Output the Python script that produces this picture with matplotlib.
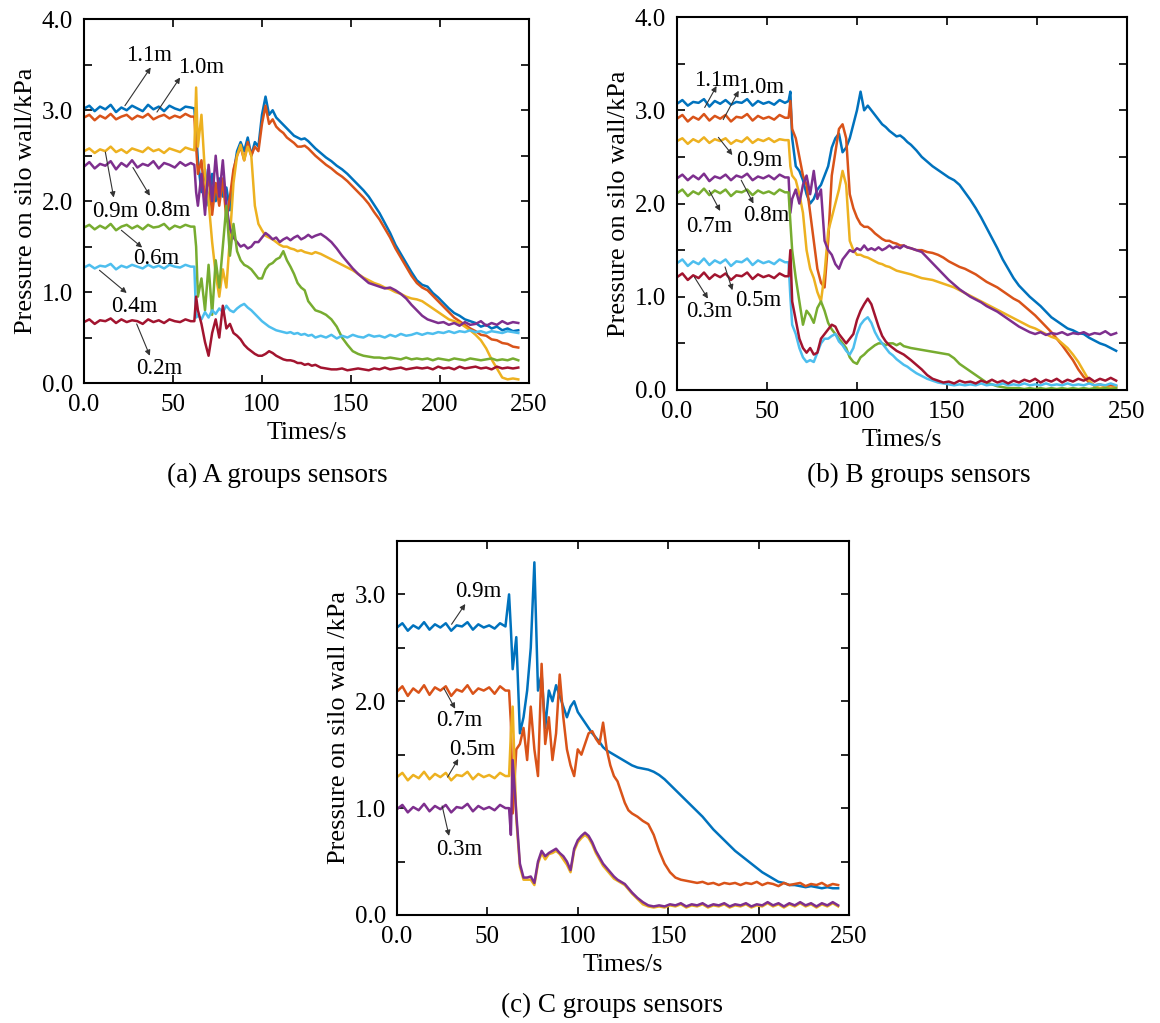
import matplotlib
matplotlib.use("Agg")
import matplotlib.pyplot as plt

plt.rcParams['font.family'] = ['Liberation Serif', 'DejaVu Serif']

# time grid (s), shared by every series
t = [0, 3, 6, 9, 12, 15, 18, 21, 24, 27, 30, 33, 36, 39, 42, 45, 48, 51, 54, 57, 60,
     62, 63,
     64, 66, 68, 70, 72, 74, 76, 78, 80, 82, 84, 86, 88, 90, 92, 94, 96,
     98, 100, 102, 104, 106, 108, 110, 112, 114, 116, 118, 120, 122, 124, 126, 128,
     130, 133, 136, 139, 142, 145, 148, 151, 154, 157, 160, 163, 166, 169, 172, 175, 178, 181, 184, 187,
     190, 193, 196, 199, 202, 205, 208, 211, 214, 217, 220, 223, 226, 229, 232, 235, 238, 241, 244]

# ---- group A ----
a_11 = [3.02, 3.05, 2.99, 3.04, 3.01, 3.06, 2.98, 3.03, 3.00, 3.05, 3.02, 2.99, 3.06, 3.01, 3.04, 2.99, 3.05, 3.02, 3.00, 3.04, 3.03,
        3.02, 2.75,
        2.45, 2.1, 2.35, 1.95, 2.3, 2.0, 2.25, 2.05, 2.15, 1.9, 2.3, 2.55, 2.65, 2.55, 2.7, 2.5, 2.65,
        2.6, 2.95, 3.15, 2.95, 3.0, 2.92, 2.88, 2.84, 2.8, 2.76, 2.72, 2.7, 2.68, 2.69, 2.66, 2.62,
        2.58, 2.53, 2.48, 2.44, 2.39, 2.35, 2.3, 2.24, 2.18, 2.12, 2.05, 1.96, 1.87, 1.76, 1.65, 1.52, 1.42, 1.32, 1.22, 1.13,
        1.08, 1.06, 0.99, 0.94, 0.88, 0.82, 0.77, 0.74, 0.7, 0.68, 0.66, 0.62, 0.64, 0.6, 0.62, 0.58, 0.6, 0.57, 0.58]
a_10 = [2.92, 2.95, 2.89, 2.94, 2.91, 2.96, 2.90, 2.93, 2.95, 2.90, 2.94, 2.92, 2.96, 2.90, 2.93, 2.95, 2.91, 2.94, 2.92, 2.96, 2.93,
        2.93, 2.6,
        2.3, 2.45, 2.0, 2.3, 1.85, 2.2, 1.95, 2.25, 1.8, 2.05, 2.35, 2.5, 2.6, 2.45, 2.65, 2.5, 2.6,
        2.55, 2.85, 3.05, 2.85, 2.9, 2.82, 2.78, 2.75, 2.7, 2.67, 2.64, 2.6, 2.6, 2.61, 2.58, 2.54,
        2.5, 2.45, 2.4, 2.36, 2.31, 2.27, 2.22, 2.16, 2.1, 2.04, 1.97, 1.88, 1.8, 1.7, 1.6, 1.48, 1.38, 1.28, 1.18, 1.1,
        1.05, 1.02, 0.96, 0.9, 0.84, 0.78, 0.72, 0.68, 0.64, 0.6, 0.57, 0.53, 0.52, 0.48, 0.47, 0.44, 0.43, 0.4, 0.39]
a_09 = [2.55, 2.58, 2.53, 2.57, 2.55, 2.60, 2.54, 2.57, 2.53, 2.58, 2.56, 2.54, 2.59, 2.55, 2.57, 2.53, 2.58, 2.56, 2.54, 2.59, 2.57,
        2.56, 3.25,
        2.6, 2.95, 2.3, 2.0, 1.55, 1.2, 0.95, 1.25, 1.05, 1.6, 2.2, 2.5, 2.62, 2.45, 2.6, 2.5, 1.95,
        1.75, 1.68, 1.62, 1.6, 1.58, 1.55, 1.52, 1.5, 1.5, 1.48, 1.47, 1.45, 1.46, 1.44, 1.43, 1.42,
        1.44, 1.42, 1.39, 1.36, 1.33, 1.3, 1.27, 1.24, 1.2, 1.16, 1.13, 1.1, 1.08, 1.05, 1.03, 1.0, 0.98, 0.95, 0.93, 0.92,
        0.9, 0.86, 0.82, 0.78, 0.74, 0.7, 0.68, 0.66, 0.62, 0.58, 0.53, 0.47, 0.38, 0.26, 0.16, 0.06, 0.04, 0.05, 0.04]
a_08 = [2.38, 2.43, 2.36, 2.41, 2.39, 2.44, 2.35, 2.42, 2.38, 2.45, 2.37, 2.41, 2.39, 2.44, 2.36, 2.42, 2.40, 2.37, 2.43, 2.39, 2.42,
        2.4, 2.1,
        1.95, 2.3, 1.85, 2.4, 2.0, 2.5, 2.05, 2.45, 1.95, 1.7, 1.6, 1.55, 1.5, 1.52, 1.48, 1.5, 1.55,
        1.55, 1.6, 1.65, 1.62, 1.58, 1.6, 1.55, 1.58, 1.6, 1.57, 1.6, 1.62, 1.58, 1.6, 1.63, 1.6,
        1.62, 1.64, 1.6, 1.55, 1.48, 1.4, 1.33, 1.26, 1.2, 1.15, 1.1, 1.08, 1.06, 1.04, 1.05, 1.02, 0.98, 0.93, 0.86, 0.8,
        0.74, 0.7, 0.68, 0.66, 0.67, 0.64, 0.66, 0.63, 0.67, 0.64, 0.65, 0.68, 0.63, 0.66, 0.64, 0.68, 0.65, 0.67, 0.66]
a_06 = [1.71, 1.74, 1.69, 1.73, 1.70, 1.75, 1.68, 1.72, 1.74, 1.70, 1.73, 1.69, 1.74, 1.71, 1.72, 1.75, 1.69, 1.73, 1.71, 1.74, 1.72,
        1.72, 1.5,
        0.95, 1.15, 0.8, 1.3, 0.75, 1.35, 1.05, 1.5, 1.95, 1.4, 1.75, 1.45, 1.35, 1.3, 1.28, 1.25, 1.2,
        1.15, 1.15, 1.25, 1.3, 1.32, 1.36, 1.38, 1.45, 1.35, 1.28, 1.2, 1.1, 1.05, 1.02, 0.9, 0.85,
        0.8, 0.78, 0.75, 0.7, 0.62, 0.5, 0.42, 0.35, 0.32, 0.3, 0.29, 0.28, 0.28, 0.27, 0.28, 0.27, 0.26, 0.28, 0.26, 0.27,
        0.26, 0.27, 0.25, 0.27, 0.26, 0.25, 0.27, 0.26, 0.25, 0.27, 0.26, 0.25, 0.26, 0.27, 0.25, 0.26, 0.25, 0.27, 0.25]
a_04 = [1.27, 1.30, 1.26, 1.29, 1.28, 1.31, 1.25, 1.29, 1.27, 1.30, 1.28, 1.26, 1.30, 1.27, 1.29, 1.26, 1.30, 1.28, 1.27, 1.30, 1.28,
        1.28, 0.72,
        0.75, 0.7, 0.78, 0.72, 0.8, 0.76, 0.82, 0.78, 0.85, 0.8, 0.78, 0.82, 0.85, 0.87, 0.83, 0.8, 0.76,
        0.72, 0.68, 0.65, 0.62, 0.6, 0.58, 0.57, 0.56, 0.55, 0.56, 0.54, 0.55, 0.53, 0.54, 0.52, 0.53,
        0.5, 0.52, 0.5, 0.53, 0.49, 0.52, 0.5, 0.53, 0.51, 0.5, 0.53, 0.51, 0.52, 0.5, 0.53, 0.51, 0.54, 0.52, 0.53, 0.55,
        0.53, 0.55, 0.54, 0.56, 0.55, 0.57, 0.55, 0.57, 0.56, 0.58, 0.56, 0.57, 0.55, 0.57, 0.56, 0.55, 0.57, 0.56, 0.55]
a_02 = [0.67, 0.70, 0.65, 0.69, 0.68, 0.71, 0.66, 0.70, 0.67, 0.69, 0.68, 0.65, 0.70, 0.67, 0.69, 0.66, 0.70, 0.68, 0.67, 0.70, 0.68,
        0.68, 0.95,
        0.8, 0.65, 0.45, 0.3, 0.55, 0.7, 0.5, 0.85, 0.6, 0.65, 0.55, 0.52, 0.48, 0.42, 0.38, 0.35, 0.32,
        0.3, 0.3, 0.32, 0.35, 0.33, 0.3, 0.28, 0.26, 0.25, 0.25, 0.24, 0.22, 0.22, 0.2, 0.21, 0.19,
        0.2, 0.17, 0.16, 0.15, 0.15, 0.16, 0.14, 0.15, 0.16, 0.15, 0.14, 0.16, 0.15, 0.17, 0.15, 0.16, 0.17, 0.15, 0.16, 0.17,
        0.16, 0.17, 0.15, 0.18, 0.16, 0.17, 0.15, 0.18, 0.16, 0.17, 0.18, 0.16, 0.17, 0.15, 0.18, 0.16, 0.17, 0.16, 0.17]

# ---- group B ----
b_11 = [3.07, 3.11, 3.05, 3.09, 3.08, 3.12, 3.04, 3.10, 3.07, 3.11, 3.06, 3.09, 3.08, 3.12, 3.05, 3.10, 3.07, 3.09, 3.06, 3.11, 3.08,
        3.1, 3.2,
        2.7, 2.4, 2.35, 2.25, 2.1, 2.0, 2.05, 2.15, 2.2, 2.3, 2.4, 2.6, 2.7, 2.75, 2.55, 2.6, 2.7,
        2.85, 3.0, 3.2, 3.0, 3.05, 3.0, 2.95, 2.9, 2.85, 2.82, 2.78, 2.75, 2.72, 2.73, 2.7, 2.66,
        2.63, 2.57, 2.5, 2.45, 2.4, 2.36, 2.32, 2.28, 2.25, 2.2, 2.12, 2.04, 1.95, 1.85, 1.74, 1.63, 1.52, 1.4, 1.3, 1.2,
        1.12, 1.06, 1.0, 0.95, 0.9, 0.84, 0.78, 0.74, 0.7, 0.66, 0.64, 0.61, 0.6, 0.56, 0.53, 0.5, 0.48, 0.45, 0.42]
b_10 = [2.91, 2.95, 2.88, 2.93, 2.90, 2.96, 2.89, 2.94, 2.91, 2.95, 2.88, 2.93, 2.92, 2.96, 2.89, 2.94, 2.91, 2.93, 2.90, 2.95, 2.92,
        2.92, 3.1,
        2.8, 2.7, 2.5, 2.3, 2.2, 1.9, 1.6, 1.3, 1.15, 1.1, 1.6, 2.3, 2.55, 2.8, 2.85, 2.7, 2.1,
        1.95, 1.85, 1.78, 1.75, 1.75, 1.72, 1.68, 1.65, 1.62, 1.6, 1.6, 1.58, 1.57, 1.55, 1.55, 1.53,
        1.52, 1.5, 1.5, 1.48, 1.47, 1.45, 1.42, 1.38, 1.35, 1.32, 1.3, 1.27, 1.24, 1.2, 1.16, 1.13, 1.1, 1.06, 1.02, 0.98,
        0.95, 0.9, 0.85, 0.8, 0.74, 0.68, 0.62, 0.55, 0.48, 0.4, 0.32, 0.22, 0.14, 0.08, 0.05, 0.06, 0.04, 0.05, 0.04]
b_09 = [2.67, 2.70, 2.64, 2.69, 2.66, 2.71, 2.65, 2.69, 2.67, 2.70, 2.64, 2.68, 2.66, 2.71, 2.65, 2.69, 2.67, 2.70, 2.66, 2.69, 2.68,
        2.68, 2.4,
        2.3, 2.25, 2.1, 1.9, 1.5, 1.3, 1.2, 1.05, 0.95, 1.25, 1.7, 1.85, 2.0, 2.15, 2.35, 2.2, 1.6,
        1.5, 1.45, 1.45, 1.43, 1.42, 1.4, 1.38, 1.36, 1.35, 1.33, 1.32, 1.3, 1.28, 1.27, 1.26, 1.25,
        1.24, 1.22, 1.2, 1.19, 1.18, 1.16, 1.14, 1.12, 1.1, 1.07, 1.04, 1.01, 0.98, 0.95, 0.92, 0.89, 0.86, 0.83, 0.8, 0.77,
        0.74, 0.71, 0.68, 0.66, 0.63, 0.6, 0.57, 0.55, 0.5, 0.45, 0.38, 0.3, 0.2, 0.1, 0.04, 0.02, 0.03, 0.02, 0.03]
b_08 = [2.27, 2.31, 2.25, 2.30, 2.26, 2.32, 2.24, 2.29, 2.27, 2.31, 2.25, 2.30, 2.28, 2.32, 2.25, 2.29, 2.27, 2.30, 2.26, 2.31, 2.28,
        2.28, 1.9,
        2.05, 2.15, 2.0, 2.2, 2.3, 2.1, 2.35, 2.05, 2.15, 1.6, 1.5, 1.45, 1.35, 1.3, 1.4, 1.45, 1.5,
        1.48, 1.52, 1.5, 1.55, 1.5, 1.52, 1.5, 1.53, 1.5, 1.52, 1.55, 1.52, 1.54, 1.52, 1.55, 1.53,
        1.52, 1.5, 1.48, 1.42, 1.36, 1.3, 1.24, 1.18, 1.13, 1.08, 1.04, 1.0, 0.97, 0.94, 0.9, 0.87, 0.84, 0.8, 0.76, 0.72,
        0.68, 0.65, 0.62, 0.6, 0.62, 0.59, 0.61, 0.6, 0.62, 0.59, 0.61, 0.6, 0.62, 0.59, 0.61, 0.6, 0.63, 0.59, 0.61]
b_07 = [2.11, 2.15, 2.08, 2.13, 2.10, 2.16, 2.09, 2.14, 2.11, 2.15, 2.08, 2.13, 2.12, 2.15, 2.09, 2.14, 2.11, 2.13, 2.10, 2.15, 2.12,
        2.12, 1.8,
        1.5, 1.2, 0.95, 0.7, 0.85, 0.8, 0.72, 0.88, 0.95, 0.85, 0.72, 0.65, 0.6, 0.55, 0.5, 0.45, 0.35,
        0.3, 0.28, 0.35, 0.38, 0.42, 0.45, 0.48, 0.5, 0.5, 0.48, 0.5, 0.5, 0.48, 0.5, 0.47, 0.46,
        0.45, 0.44, 0.43, 0.42, 0.41, 0.4, 0.39, 0.38, 0.34, 0.28, 0.24, 0.2, 0.16, 0.12, 0.08, 0.06, 0.04, 0.03, 0.02, 0.02,
        0.02, 0.01, 0.02, 0.01, 0.02, 0.01, 0.02, 0.01, 0.02, 0.01, 0.02, 0.01, 0.02, 0.01, 0.02, 0.01, 0.02, 0.01, 0.02]
b_05 = [1.36, 1.40, 1.33, 1.38, 1.35, 1.41, 1.34, 1.39, 1.36, 1.40, 1.33, 1.38, 1.37, 1.41, 1.34, 1.39, 1.36, 1.38, 1.35, 1.40, 1.37,
        1.37, 1.0,
        0.7, 0.6, 0.45, 0.35, 0.3, 0.32, 0.3, 0.4, 0.5, 0.55, 0.55, 0.58, 0.6, 0.52, 0.48, 0.42, 0.38,
        0.45, 0.6, 0.7, 0.75, 0.78, 0.72, 0.62, 0.55, 0.5, 0.45, 0.4, 0.37, 0.33, 0.3, 0.27, 0.25,
        0.22, 0.18, 0.15, 0.12, 0.1, 0.08, 0.07, 0.06, 0.05, 0.06, 0.05, 0.06, 0.05, 0.07, 0.05, 0.06, 0.05, 0.07, 0.05, 0.06,
        0.05, 0.07, 0.05, 0.06, 0.05, 0.07, 0.05, 0.06, 0.05, 0.07, 0.05, 0.06, 0.05, 0.07, 0.05, 0.06, 0.05, 0.07, 0.05]
b_03 = [1.21, 1.25, 1.18, 1.23, 1.20, 1.26, 1.19, 1.24, 1.21, 1.25, 1.18, 1.23, 1.22, 1.26, 1.19, 1.24, 1.21, 1.23, 1.20, 1.25, 1.22,
        1.22, 1.5,
        0.95, 0.75, 0.55, 0.45, 0.4, 0.45, 0.38, 0.4, 0.55, 0.6, 0.65, 0.7, 0.68, 0.6, 0.55, 0.5, 0.55,
        0.6, 0.75, 0.85, 0.92, 0.98, 0.92, 0.8, 0.68, 0.58, 0.52, 0.48, 0.45, 0.42, 0.4, 0.38, 0.35,
        0.32, 0.27, 0.22, 0.16, 0.12, 0.1, 0.08, 0.09, 0.07, 0.1, 0.08, 0.09, 0.07, 0.1, 0.08, 0.11, 0.08, 0.1, 0.07, 0.1,
        0.08, 0.11, 0.09, 0.12, 0.08, 0.11, 0.09, 0.12, 0.08, 0.11, 0.09, 0.12, 0.1, 0.13, 0.09, 0.12, 0.1, 0.13, 0.1]

# ---- group C ----
c_09 = [2.69, 2.73, 2.66, 2.71, 2.68, 2.74, 2.67, 2.72, 2.69, 2.73, 2.66, 2.71, 2.70, 2.74, 2.67, 2.72, 2.69, 2.71, 2.68, 2.73, 2.70,
        3.0, 2.68,
        2.3, 2.6, 1.7, 1.85, 2.1, 2.5, 3.3, 2.1, 2.25, 1.75, 2.1, 2.0, 2.15, 2.05, 1.95, 1.85, 1.95,
        2.0, 1.9, 1.85, 1.8, 1.75, 1.7, 1.66, 1.62, 1.57, 1.54, 1.52, 1.5, 1.48, 1.46, 1.44, 1.42,
        1.4, 1.38, 1.37, 1.36, 1.34, 1.31, 1.27, 1.22, 1.17, 1.12, 1.07, 1.02, 0.97, 0.92, 0.86, 0.8, 0.75, 0.7, 0.65, 0.6,
        0.56, 0.52, 0.48, 0.44, 0.4, 0.37, 0.34, 0.31, 0.3, 0.28, 0.28, 0.27, 0.26, 0.27, 0.26, 0.25, 0.26, 0.25, 0.25]
c_07 = [2.09, 2.14, 2.05, 2.12, 2.08, 2.15, 2.06, 2.13, 2.10, 2.14, 2.05, 2.11, 2.09, 2.15, 2.07, 2.12, 2.10, 2.13, 2.07, 2.14, 2.10,
        2.1, 1.8,
        0.95, 1.55, 1.6, 1.75, 1.45, 1.95, 1.55, 1.3, 2.35, 1.6, 1.85, 1.45, 1.7, 2.25, 1.85, 1.55, 1.4,
        1.3, 1.55, 1.5, 1.6, 1.7, 1.72, 1.65, 1.6, 1.8, 1.55, 1.4, 1.3, 1.25, 1.15, 1.05, 0.98,
        0.95, 0.92, 0.88, 0.85, 0.75, 0.6, 0.48, 0.4, 0.35, 0.33, 0.32, 0.31, 0.3, 0.31, 0.29, 0.3, 0.28, 0.3, 0.29, 0.3,
        0.28, 0.3, 0.29, 0.31, 0.28, 0.3, 0.29, 0.27, 0.3, 0.28, 0.29, 0.3, 0.27, 0.29, 0.28, 0.3, 0.27, 0.29, 0.28]
c_05 = [1.29, 1.33, 1.26, 1.31, 1.28, 1.34, 1.27, 1.32, 1.29, 1.33, 1.26, 1.31, 1.30, 1.34, 1.27, 1.32, 1.29, 1.31, 1.28, 1.33, 1.30,
        1.3, 1.7,
        1.95, 0.9, 0.45, 0.33, 0.33, 0.33, 0.28, 0.48, 0.58, 0.52, 0.57, 0.58, 0.6, 0.57, 0.52, 0.47, 0.4,
        0.6, 0.68, 0.72, 0.75, 0.72, 0.66, 0.58, 0.52, 0.46, 0.42, 0.38, 0.34, 0.32, 0.3, 0.28, 0.24,
        0.2, 0.15, 0.1, 0.08, 0.07, 0.08, 0.07, 0.09, 0.08, 0.1, 0.07, 0.09, 0.08, 0.1, 0.07, 0.09, 0.08, 0.1, 0.07, 0.09,
        0.08, 0.1, 0.07, 0.09, 0.08, 0.11, 0.08, 0.1, 0.07, 0.1, 0.08, 0.11, 0.08, 0.1, 0.07, 0.1, 0.08, 0.11, 0.08]
c_03 = [0.99, 1.03, 0.96, 1.01, 0.98, 1.04, 0.97, 1.02, 0.99, 1.03, 0.96, 1.01, 1.00, 1.04, 0.97, 1.02, 0.99, 1.01, 0.98, 1.03, 1.00,
        1.0, 0.75,
        1.45, 0.95, 0.48, 0.35, 0.35, 0.36, 0.3, 0.5, 0.6, 0.55, 0.58, 0.6, 0.62, 0.58, 0.55, 0.5, 0.42,
        0.62, 0.7, 0.74, 0.77, 0.74, 0.68, 0.6, 0.54, 0.48, 0.44, 0.4, 0.36, 0.33, 0.31, 0.29, 0.25,
        0.21, 0.16, 0.12, 0.09, 0.08, 0.09, 0.08, 0.1, 0.09, 0.11, 0.08, 0.1, 0.09, 0.11, 0.08, 0.1, 0.09, 0.11, 0.08, 0.1,
        0.09, 0.11, 0.08, 0.1, 0.09, 0.12, 0.09, 0.11, 0.08, 0.11, 0.09, 0.12, 0.09, 0.11, 0.08, 0.11, 0.09, 0.12, 0.09]

blue, orange, yellow, purple = '#0072BD', '#D95319', '#EDB120', '#7E2F8E'
green, cyan, red = '#77AC30', '#4DBEEE', '#A2142F'

# (values, colour, label, text pos, arrow tail, arrow head)
group_a = [
    (a_11, blue, '1.1m', (36.5, 3.60), (23, 3.05), (37.5, 3.47)),
    (a_10, orange, '1.0m', (66, 3.47), (41, 2.98), (54, 3.36)),
    (a_09, yellow, '0.9m', (17.5, 1.89), (12, 2.54), (16.7, 2.04)),
    (a_08, purple, '0.8m', (46.7, 1.90), (27.5, 2.37), (37, 2.06)),
    (a_06, green, '0.6m', (40.6, 1.37), (21, 1.68), (32.7, 1.49)),
    (a_04, cyan, '0.4m', (28.5, 0.84), (8.7, 1.24), (24, 0.99)),
    (a_02, red, '0.2m', (42.5, 0.16), (29.6, 0.65), (37, 0.30)),
]
group_b = [
    (b_11, blue, '1.1m', (22, 3.32), (15.4, 3.03), (22, 3.26)),
    (b_10, orange, '1.0m', (46.6, 3.24), (25.7, 2.90), (34.3, 3.21)),
    (b_09, yellow, '0.9m', (46, 2.46), (23, 2.71), (30.8, 2.52)),
    (b_08, purple, '0.8m', (49.7, 1.87), (35.7, 2.25), (42.5, 2.00)),
    (b_07, green, '0.7m', (18, 1.75), (17.9, 2.14), (24, 1.92)),
    (b_05, cyan, '0.5m', (45, 0.96), (26.7, 1.32), (30.8, 1.07)),
    (b_03, red, '0.3m', (18, 0.84), (9.7, 1.21), (17.2, 0.98)),
]
group_c = [
    (c_09, blue, '0.9m', (44.9, 3.03), (30.2, 2.72), (37.8, 2.91)),
    (c_07, orange, '0.7m', (34.7, 1.82), (26, 2.12), (32.2, 1.93)),
    (c_05, yellow, '0.5m', (41.8, 1.55), (28, 1.29), (33.9, 1.46)),
    (c_03, purple, '0.3m', (34.7, 0.61), (25, 1.02), (28.8, 0.74)),
]

fig = plt.figure(figsize=(11.6, 10.23), dpi=100)
axes = [fig.add_axes([0.0724, 0.6256, 0.3836, 0.3555]),
        fig.add_axes([0.5836, 0.6188, 0.3879, 0.3645]),
        fig.add_axes([0.3422, 0.1056, 0.3897, 0.3656])]
groups = [group_a, group_b, group_c]
ymaxs = [4.0, 4.0, 3.5]
ylabels = ['Pressure on silo wall/kPa', 'Pressure on silo wall/kPa', 'Pressure on silo wall /kPa']

for ax, grp, ymax, ylab in zip(axes, groups, ymaxs, ylabels):
    for vals, col, lab, tpos, tail, head in grp:
        ax.plot(t, vals, color=col, lw=1.8)
    for vals, col, lab, tpos, tail, head in grp:
        ax.annotate('', xy=head, xytext=tail,
                    arrowprops=dict(arrowstyle='-|>', color='#333333', lw=0.8,
                                    mutation_scale=8, shrinkA=0, shrinkB=0))
        ax.text(tpos[0], tpos[1], lab, fontsize=16.5, ha='center', va='center')
    ax.set_xlim(0, 250)
    ax.set_ylim(0, ymax)
    ax.set_xticks([0, 50, 100, 150, 200, 250])
    ax.set_xticklabels(['0.0', '50', '100', '150', '200', '250'])
    yt = [i * 0.5 for i in range(int(ymax / 0.5) + 1)]
    ax.set_yticks(yt)
    ax.set_yticklabels(['%.1f' % v if abs(v - round(v)) < 1e-9 else '' for v in yt])
    ax.tick_params(direction='in', top=True, right=True, labelsize=18, length=6, width=1.2)
    ax.tick_params(axis='x', pad=8)
    ax.tick_params(axis='y', pad=8)
    for s in ax.spines.values():
        s.set_linewidth(1.5)
    ax.set_xlabel('Times/s', fontsize=18.5, labelpad=4)
    ax.set_ylabel(ylab, fontsize=19, labelpad=3)

fig.text(0.239, 0.5357, '(a) A groups sensors', ha='center', va='center', fontsize=19.5)
fig.text(0.792, 0.5357, '(b) B groups sensors', ha='center', va='center', fontsize=19.5)
fig.text(0.528, 0.0176, '(c) C groups sensors', ha='center', va='center', fontsize=19.5)

fig.savefig('out.png', dpi=100)
